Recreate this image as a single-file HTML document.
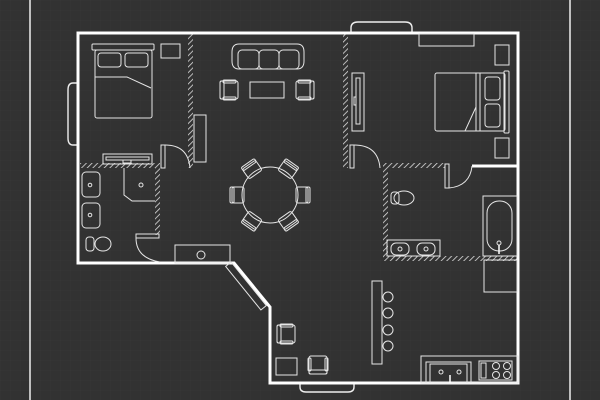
<!DOCTYPE html>
<html><head><style>
html,body{margin:0;padding:0;background:#323232;}
svg{display:block}
</style></head><body>
<svg width="600" height="400" viewBox="0 0 600 400" xmlns="http://www.w3.org/2000/svg">
<defs>
<pattern id="grid" width="10" height="10" patternUnits="userSpaceOnUse">
<path d="M10 0H0V10" fill="none" stroke="#3a3a3a" stroke-width="0.6"/>
</pattern>
<pattern id="hatch" width="4" height="4" patternUnits="userSpaceOnUse" patternTransform="rotate(45)">
<rect width="4" height="4" fill="#323232"/>
<line x1="0" y1="0" x2="0" y2="4" stroke="#ddd" stroke-width="1.6"/>
</pattern>
<g id="chair">
<rect x="-9" y="-9" width="18" height="18" rx="2"/>
<rect x="-9" y="-9" width="4" height="18" rx="1.5"/>
<rect x="-6" y="-10" width="13" height="3" rx="1.2"/>
<rect x="-6" y="7" width="13" height="3" rx="1.2"/>
</g>
<g id="dchair">
<rect x="-7" y="-8" width="12" height="16" rx="2"/>
<rect x="-9" y="-8" width="4" height="16" rx="1.5"/>
</g>
</defs>
<rect width="600" height="400" fill="#323232"/>
<rect width="600" height="400" fill="url(#grid)"/>
<line x1="30" y1="0" x2="30" y2="400" stroke="#eee" stroke-width="1.5"/>
<line x1="570" y1="0" x2="570" y2="400" stroke="#eee" stroke-width="1.5"/>

<g fill="none" stroke="#eee" stroke-width="1.4">
<path d="M78 83 H73 Q68 83 68 90 V138 Q68 145 73 145 H78"/>
<path d="M351 33 V28 Q351 22 358 22 H405 Q412 22 412 28 V33"/>
<path d="M300 383 V387 Q300 392 306 392 H348 Q354 392 354 387 V383"/>
</g>

<g fill="url(#hatch)">
<rect x="188" y="33" width="5" height="135"/>
<rect x="343" y="33" width="5" height="135"/>
<rect x="80" y="163" width="78" height="5"/>
<rect x="155" y="163" width="5" height="72"/>
<rect x="383" y="163" width="62" height="5"/>
<rect x="383" y="163" width="5" height="95"/>
<rect x="383" y="256" width="135" height="5"/>
</g>

<path d="M78 33 H518 V383 H270 V307 L234 263 H78 Z" fill="none" stroke="#fff" stroke-width="3"/>
<line x1="472" y1="166" x2="518" y2="166" stroke="#fff" stroke-width="3"/>

<g fill="none" stroke="#e6e6e6" stroke-width="1">
<rect x="92" y="44" width="62" height="6" rx="1"/>
<rect x="95" y="50" width="57" height="68" rx="2"/>
<rect x="98" y="53" width="23" height="14" rx="3"/>
<rect x="125" y="53" width="23" height="14" rx="3"/>
<path d="M95 77 H127 L151 88"/>
<rect x="161" y="44" width="19" height="14"/>
<rect x="103" y="154" width="49" height="10"/>
<rect x="106" y="157" width="43" height="3"/>
<rect x="123" y="160" width="8" height="3"/>
<rect x="194" y="115" width="12" height="47"/>
<rect x="161" y="145" width="4" height="23"/>
<path d="M165 145 Q188 145 190 168"/>
<rect x="82" y="172" width="18" height="25" rx="4"/>
<rect x="82" y="203" width="18" height="25" rx="4"/>
<circle cx="90" cy="185" r="1.8"/>
<circle cx="90" cy="215" r="1.8"/>
<path d="M124 168 V195 L132 201 H155"/>
<circle cx="141" cy="185" r="2"/>
<ellipse cx="103" cy="244" rx="8" ry="7"/>
<rect x="86" y="237" width="8" height="14" rx="3"/>
<rect x="136" y="234" width="23" height="4"/>
<path d="M136 238 Q136 258 160 262"/>
<rect x="175" y="245" width="55" height="18"/>
<circle cx="201" cy="255" r="4"/>
<rect x="-28" y="-3.5" width="56" height="7" transform="translate(246 286) rotate(51)"/>

<path d="M239 44 H297 Q304 44 304 52 V61 Q304 69 297 69 H239 Q232 69 232 61 V52 Q232 44 239 44Z"/>
<rect x="238" y="50" width="21" height="19" rx="4"/>
<rect x="259" y="50" width="20" height="19" rx="4"/>
<rect x="279" y="50" width="20" height="19" rx="4"/>
<g transform="translate(229 90)"><use href="#chair"/></g>
<g transform="translate(305 90) scale(-1 1)"><use href="#chair"/></g>
<rect x="250" y="82" width="34" height="16"/>
<circle cx="270" cy="195" r="28"/>
<g transform="translate(270 195)">
<g transform="rotate(0) translate(-31 0)"><use href="#dchair"/></g>
<g transform="rotate(180) translate(-31 0)"><use href="#dchair"/></g>
<g transform="rotate(55) translate(-30 0)"><use href="#dchair"/></g>
<g transform="rotate(125) translate(-30 0)"><use href="#dchair"/></g>
<g transform="rotate(-55) translate(-30 0)"><use href="#dchair"/></g>
<g transform="rotate(-125) translate(-30 0)"><use href="#dchair"/></g>
</g>

<rect x="419" y="34" width="55" height="12"/>
<rect x="352" y="73" width="12" height="58"/>
<rect x="356" y="78" width="4" height="46"/>
<rect x="354" y="97" width="2" height="8"/>
<rect x="350" y="145" width="4" height="23"/>
<path d="M354 145 Q378 145 380 168"/>
<rect x="435" y="73" width="70" height="58" rx="2"/>
<line x1="476" y1="73" x2="476" y2="131"/>
<line x1="480" y1="73" x2="480" y2="131"/>
<rect x="485" y="77" width="15" height="23" rx="3"/>
<rect x="485" y="104" width="15" height="23" rx="3"/>
<path d="M476 107 L465 131"/>
<rect x="504" y="71" width="5" height="62" rx="1"/>
<rect x="495" y="45" width="14" height="20"/>
<rect x="495" y="138" width="14" height="20"/>
<rect x="445" y="164" width="4" height="24"/>
<path d="M449 188 Q470 186 472 166"/>

<ellipse cx="404" cy="198" rx="10" ry="7"/>
<rect x="391" y="192" width="8" height="12" rx="3"/>
<rect x="387" y="240" width="53" height="16"/>
<rect x="391" y="243" width="18" height="12" rx="5"/>
<rect x="417" y="243" width="18" height="12" rx="5"/>
<circle cx="400" cy="249" r="2"/>
<circle cx="426" cy="249" r="2"/>
<rect x="483" y="196" width="34" height="60"/>
<rect x="487" y="201" width="25" height="50" rx="12"/>
<circle cx="499" cy="243" r="2"/>
<rect x="484" y="260" width="33" height="32"/>

<rect x="372" y="281" width="10" height="83"/>
<circle cx="388" cy="297" r="5"/>
<circle cx="388" cy="313" r="5"/>
<circle cx="388" cy="330" r="5"/>
<circle cx="388" cy="346" r="5"/>
<rect x="421" y="356" width="97" height="27"/>
<rect x="426" y="362" width="45" height="21"/>
<rect x="430" y="364" width="37" height="19"/>
<circle cx="441" cy="372" r="2"/>
<circle cx="459" cy="372" r="2"/>
<rect x="479" y="361" width="33" height="19"/>
<rect x="481" y="363" width="5" height="15"/>
<circle cx="496" cy="366" r="3.5"/><circle cx="507" cy="366" r="3.5"/>
<circle cx="496" cy="375" r="3.5"/><circle cx="507" cy="375" r="3.5"/>
<g transform="translate(286 334)"><use href="#chair"/></g>
<rect x="276" y="358" width="21" height="17"/>
<g transform="translate(318 365) rotate(-90)"><use href="#chair"/></g>
</g>
<line x1="450" y1="375" x2="450" y2="383" stroke="#fff" stroke-width="1.5"/>
<line x1="499" y1="245" x2="499" y2="254" stroke="#fff" stroke-width="1.5"/>
</svg>
</body></html>
